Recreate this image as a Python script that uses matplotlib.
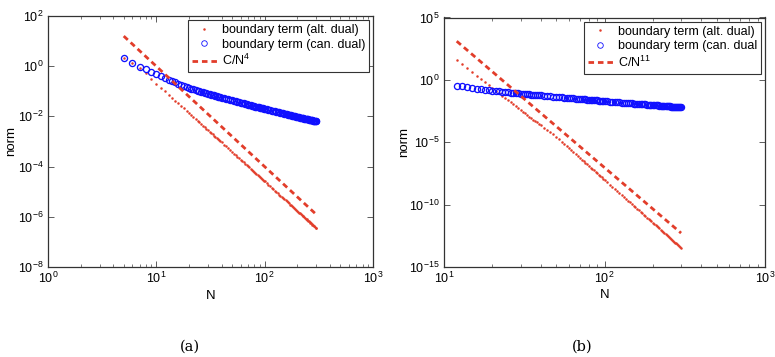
import numpy as np
import matplotlib
matplotlib.use("Agg")
import matplotlib.pyplot as plt
from matplotlib.ticker import FixedLocator, LogLocator, NullFormatter, NullLocator

plt.rcParams['font.family'] = ['Liberation Sans', 'DejaVu Sans']
plt.rcParams['mathtext.fontset'] = 'custom'
plt.rcParams['mathtext.rm'] = 'Liberation Sans'
plt.rcParams['mathtext.it'] = 'Liberation Sans:italic'

# --------------------------------
# DATA (log10 of the norm)
# --------------------------------
N = list(range(5, 41)) + list(range(42, 101, 2)) + list(range(104, 301, 4))

# canonical dual boundary term (same in both panels)
can_log = [0.34, 0.14, -0.02, -0.13, -0.23, -0.32, -0.40, -0.47, -0.53, -0.59,
           -0.645, -0.695, -0.741, -0.785, -0.827, -0.866, -0.894, -0.922, -0.948, -0.972,
           -0.996, -1.018, -1.039, -1.059, -1.078, -1.097, -1.115, -1.133, -1.151, -1.165,
           -1.181, -1.196, -1.21, -1.224, -1.238, -1.251,
           -1.276, -1.299, -1.323, -1.344, -1.364, -1.384, -1.402, -1.421, -1.438, -1.455,
           -1.470, -1.486, -1.502, -1.517, -1.530, -1.544, -1.557, -1.570, -1.582, -1.595,
           -1.606, -1.617, -1.628, -1.639, -1.650, -1.661, -1.671, -1.680, -1.690, -1.700,
           -1.718, -1.735, -1.752, -1.768, -1.784, -1.799, -1.814, -1.829, -1.843, -1.855,
           -1.868, -1.882, -1.894, -1.906, -1.917, -1.929, -1.939, -1.951, -1.961, -1.971,
           -1.981, -1.990, -2.000, -2.009, -2.018, -2.028, -2.036, -2.044, -2.053, -2.061,
           -2.069, -2.078, -2.085, -2.093, -2.100, -2.107, -2.114, -2.123, -2.129, -2.136,
           -2.143, -2.150, -2.157, -2.163, -2.169, -2.175, -2.181, -2.188, -2.194, -2.200]

# alternative dual boundary term, panel (a)
alt_a_log = [0.32, 0.12, -0.06, -0.26, -0.511, -0.69, -0.850, -0.998, -1.135, -1.259,
             -1.376, -1.486, -1.587, -1.685, -1.778, -1.864, -1.946, -2.024, -2.102, -2.172,
             -2.242, -2.309, -2.371, -2.433, -2.492, -2.550, -2.605, -2.660, -2.714, -2.761,
             -2.812, -2.858, -2.905, -2.952, -2.995, -3.038,
             -3.120, -3.198, -3.276, -3.346, -3.416, -3.482, -3.545, -3.607, -3.666, -3.724,
             -3.779, -3.833, -3.888, -3.939, -3.986, -4.032, -4.079, -4.126, -4.169, -4.212,
             -4.255, -4.294, -4.333, -4.372, -4.411, -4.450, -4.485, -4.520, -4.555, -4.590,
             -4.656, -4.719, -4.781, -4.840, -4.898, -4.953, -5.007, -5.062, -5.113, -5.159,
             -5.206, -5.253, -5.300, -5.343, -5.386, -5.429, -5.468, -5.510, -5.549, -5.585,
             -5.624, -5.659, -5.694, -5.729, -5.764, -5.799, -5.830, -5.861, -5.893, -5.924,
             -5.955, -5.986, -6.014, -6.045, -6.072, -6.099, -6.127, -6.154, -6.181, -6.209,
             -6.236, -6.259, -6.287, -6.310, -6.333, -6.357, -6.380, -6.404, -6.427, -6.450]

# alternative dual boundary term, panel (b), starts at N = 12
alt_b_log = [1.600, 1.246, 0.923, 0.620, 0.337, 0.075, -0.178, -0.420, -0.642, -0.854,
             -1.056, -1.258, -1.440, -1.622, -1.794, -1.955, -2.117, -2.268, -2.420, -2.554,
             -2.689, -2.823, -2.938, -3.063, -3.178, -3.294, -3.409, -3.514, -3.620,
             -3.822, -4.014, -4.206, -4.378, -4.583, -4.777, -4.959, -5.142, -5.313, -5.484,
             -5.643, -5.803, -5.963, -6.111, -6.248, -6.384, -6.521, -6.658, -6.783, -6.909,
             -7.034, -7.148, -7.262, -7.376, -7.490, -7.604, -7.707, -7.809, -7.912, -8.015,
             -8.208, -8.391, -8.573, -8.744, -8.915, -9.075, -9.234, -9.394, -9.542, -9.679,
             -9.816, -9.953, -10.089, -10.215, -10.340, -10.466, -10.580, -10.705, -10.819, -10.922,
             -11.036, -11.138, -11.241, -11.343, -11.446, -11.549, -11.640, -11.731, -11.822, -11.913,
             -12.005, -12.096, -12.176, -12.267, -12.347, -12.427, -12.506, -12.586, -12.666, -12.746,
             -12.825, -12.894, -12.974, -13.042, -13.110, -13.179, -13.247, -13.316, -13.384, -13.452]

# reference power laws C/N^p (straight on log-log, so the two ends are enough)
ref_a_N = [5, 300]
ref_a_log = [1.2, -5.91]
ref_b_N = [12, 300]
ref_b_log = [3.1, -12.28]

N = np.array(N)
can = 10.0 ** np.array(can_log)
alt_a = 10.0 ** np.array(alt_a_log)
alt_b = 10.0 ** np.array(alt_b_log)
N_b = N[N >= 12]
can_b = can[N >= 12]

RED = '#e23d2a'
BLUE = '#1010ff'

fig = plt.figure(figsize=(7.75, 3.57), dpi=100)
ax_a = fig.add_axes([48 / 775, 90 / 357, 325 / 775, 251 / 357])
ax_b = fig.add_axes([444 / 775, 90 / 357, 321 / 775, 249.5 / 357])


def draw(ax, nn_alt, alt, nn_can, cc, rn, rlog, can_label, ref_label):
    ax.loglog(nn_alt, alt, linestyle='none', marker='.', ms=1.6, color=RED,
              label='boundary term (alt. dual)')
    ax.loglog(nn_can, cc, linestyle='none', marker='o', ms=4.4, mfc='none',
              mec=BLUE, mew=0.95, label=can_label)
    ax.loglog(rn, 10.0 ** np.array(rlog), color=RED, lw=2.0, dashes=(2.0, 1.4),
              label=ref_label)


draw(ax_a, N, alt_a, N, can, ref_a_N, ref_a_log,
     'boundary term (can. dual)', 'C/N$^4$')
draw(ax_b, N_b, alt_b, N_b, can_b, ref_b_N, ref_b_log,
     'boundary term (can. dual', 'C/N$^{11}$')

ax_a.set_xlim(1, 1000)
ax_a.set_ylim(1e-8, 1e2)
ax_a.yaxis.set_major_locator(FixedLocator([1e-8, 1e-6, 1e-4, 1e-2, 1e0, 1e2]))
ax_b.set_xlim(10, 1000)
ax_b.set_ylim(1e-15, 1e5)
ax_b.yaxis.set_major_locator(FixedLocator([1e-15, 1e-10, 1e-5, 1e0, 1e5]))

for ax in (ax_a, ax_b):
    ax.xaxis.set_minor_locator(LogLocator(base=10, subs=np.arange(2, 10), numticks=20))
    ax.xaxis.set_minor_formatter(NullFormatter())
    ax.yaxis.set_minor_locator(NullLocator())
    ax.tick_params(which='both', direction='in', top=True, right=True,
                   labelsize=9, color='#444444', pad=3)
    ax.tick_params(which='major', length=4, width=0.6)
    ax.tick_params(which='minor', length=2.2, width=0.5)
    for s in ax.spines.values():
        s.set_linewidth(0.9)
        s.set_color('#333333')
    ax.set_xlabel('N', fontsize=9.5)
    ax.set_ylabel('norm', fontsize=9.5)
    leg = ax.legend(loc='upper right', fontsize=9, frameon=True, fancybox=False,
                    framealpha=1, edgecolor='#333333', borderpad=0.3,
                    labelspacing=0.2, handlelength=2.0, handletextpad=0.4,
                    borderaxespad=0.35)
    leg.get_frame().set_linewidth(0.8)
    leg.legend_handles[1].set_markeredgewidth(0.6)
    leg.legend_handles[1].set_markersize(4.0)

ax_a.xaxis.set_label_coords(0.5, -0.09)
ax_b.xaxis.set_label_coords(0.5, -0.09)
ax_a.yaxis.set_label_coords(-0.095, 0.5)
ax_b.yaxis.set_label_coords(-0.105, 0.5)

fig.text(190 / 775, 1 - 347 / 357, '(a)', ha='center', va='center',
         fontsize=10.5, family='DejaVu Serif')
fig.text(582 / 775, 1 - 347 / 357, '(b)', ha='center', va='center',
         fontsize=10.5, family='DejaVu Serif')

fig.savefig('out.png', dpi=100)
